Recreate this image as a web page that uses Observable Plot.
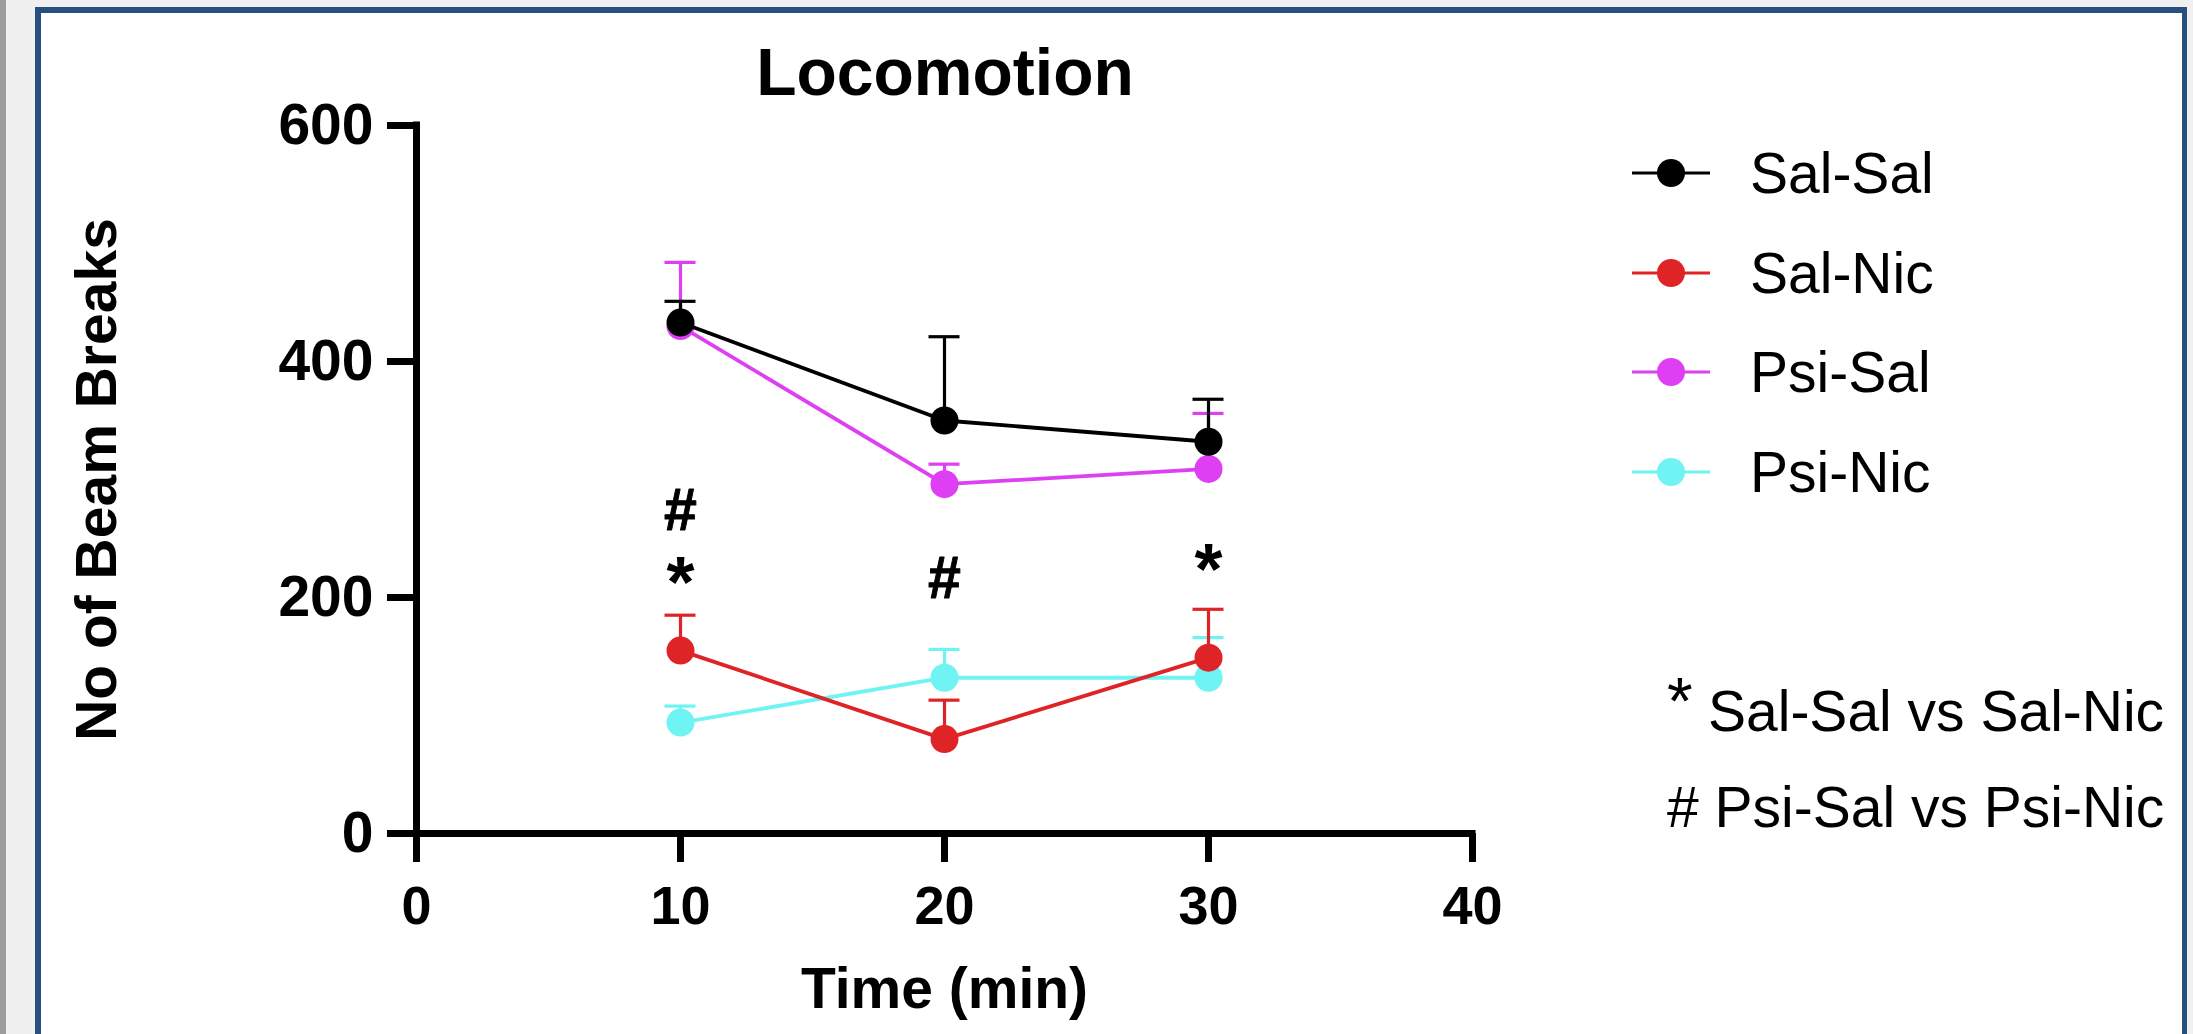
<!DOCTYPE html>
<html>
<head>
<meta charset="utf-8">
<script src="https://cdn.jsdelivr.net/npm/d3@7"></script>
<script src="https://cdn.jsdelivr.net/npm/@observablehq/plot@0.6"></script>
<style>
  html, body { margin: 0; padding: 0; }
  body { width: 2193px; height: 1034px; overflow: hidden; background: #f0f0f0; position: relative;
         font-family: "Liberation Sans", Arial, Helvetica, sans-serif; color: #000; }
  .abs { position: absolute; }
  .star { display: inline-block; width: 41px; font-size: 66px; position: relative; top: -7px; }
</style>
</head>
<body>
<div class="abs" style="left:0;top:0;width:6px;height:1034px;background:#9c9c9c"></div>
<div class="abs" style="left:35px;top:7px;width:2141px;height:1100px;background:#fff;border:6px solid #27507f;border-right-width:5px;border-bottom:none"></div>
<div id="title" class="abs" style="left:445px;top:39px;width:1000px;text-align:center;font-size:66px;line-height:66px;font-weight:bold">Locomotion</div>
<div id="chart" class="abs" style="left:40px;top:100px"></div>
<div id="legend"></div>
<script>
// ---- data ----
const times = [10, 20, 30];
const seriesNames = ["Sal-Sal", "Sal-Nic", "Psi-Sal", "Psi-Nic"];
const seriesColors = ["#000000", "#df2427", "#de3ff2", "#6ff3f3"];
const salSalMean = [433, 350, 332];
const salSalSem = [18, 71, 36];
const salNicMean = [155, 80, 149];
const salNicSem = [30, 33, 41];
const psiSalMean = [430, 296, 309];
const psiSalSem = [54, 17, 47];
const psiNicMean = [94, 132, 132];
const psiNicSem = [14, 24, 34];
const xTicks = [0, 10, 20, 30, 40];
const yTicks = [0, 200, 400, 600];
const sigTimes = [10, 10, 20, 30];
const sigLabels = ["#", "*", "#", "*"];
const sigLevels = [257, 192, 200, 203];
const noteMarks = ["*", "#"];
const noteTexts = ["Sal-Sal vs Sal-Nic", "Psi-Sal vs Psi-Nic"];

// ---- build table ----
const means = [salSalMean, salNicMean, psiSalMean, psiNicMean];
const sems = [salSalSem, salNicSem, psiSalSem, psiNicSem];
const rows = seriesNames.flatMap((s, i) => times.map((t, j) => ({
  series: s, time: t, mean: means[i][j], upper: means[i][j] + sems[i][j]
})));
const sig = sigTimes.map((t, i) => ({time: t, level: sigLevels[i], label: sigLabels[i]}));

const seriesMarks = [];
[...seriesNames].reverse().forEach(s => {
  const d = rows.filter(r => r.series === s);
  seriesMarks.push(
    Plot.ruleX(d, {x: "time", y1: "mean", y2: "upper", stroke: "series", strokeWidth: 3.2}),
    Plot.ruleY(d, {y: "upper", x1: "time", x2: "time", stroke: "series", strokeWidth: 3.2, insetLeft: -15.5, insetRight: -15.5}),
    Plot.line(d, {x: "time", y: "mean", stroke: "series", strokeWidth: 3.8}),
    Plot.dot(d, {x: "time", y: "mean", r: 14, fill: "series", stroke: null})
  );
});

const chart = Plot.plot({
  width: 1560,
  height: 934,
  marginLeft: 376,
  marginRight: 128,
  marginTop: 25,
  marginBottom: 201,
  style: {fontFamily: "'Liberation Sans', Arial, Helvetica, sans-serif", background: "transparent", color: "#000", overflow: "visible"},
  x: {domain: [0, 40]},
  y: {domain: [0, 600]},
  color: {domain: seriesNames, range: seriesColors},
  marks: [
    ...seriesMarks,
    Plot.text(sig.filter(d => d.label === "#"), {x: "time", y: "level", text: "label", fontSize: 59, fontWeight: "bold", lineAnchor: "bottom", fill: "#000", stroke: "#000", strokeWidth: 1}),
    Plot.text(sig.filter(d => d.label === "*"), {x: "time", y: "level", text: "label", fontSize: 72, fontWeight: "bold", lineAnchor: "bottom", fill: "#000"}),
    Plot.axisX({ticks: xTicks, tickSize: 29, tickPadding: 23, strokeWidth: 7, fontSize: 54, fontWeight: "bold", label: null, tickFormat: d => String(d)}),
    Plot.axisY({ticks: yTicks, tickSize: 29, tickPadding: 14, strokeWidth: 7, fontSize: 57, fontWeight: "bold", label: null, tickFormat: d => String(d)}),
    Plot.ruleX([0], {y1: 0, y2: 600, strokeWidth: 7, strokeLinecap: "square"}),
    Plot.ruleY([0], {x1: 0, x2: 40, strokeWidth: 7, strokeLinecap: "square"}),
    Plot.text(["Time (min)"], {frameAnchor: "bottom", dy: 174, lineAnchor: "bottom", fontSize: 57, fontWeight: "bold"}),
    Plot.text(["No of Beam Breaks"], {frameAnchor: "left", dx: -319, rotate: -90, textAnchor: "middle", lineAnchor: "middle", fontSize: 57, fontWeight: "bold"})
  ]
});
document.getElementById("chart").appendChild(chart);

// ---- legend (HTML) ----
const legend = document.getElementById("legend");
const rowCenters = [173, 273, 372, 472];
seriesNames.forEach((s, i) => {
  const cy = rowCenters[i];
  const sym = document.createElementNS("http://www.w3.org/2000/svg", "svg");
  sym.setAttribute("width", 80); sym.setAttribute("height", 30);
  sym.setAttribute("class", "abs");
  sym.style.left = "1631px"; sym.style.top = (cy - 15) + "px";
  sym.innerHTML = `<line x1="1" x2="79" y1="15" y2="15" stroke="${seriesColors[i]}" stroke-width="3.2"/><circle cx="40" cy="15" r="14" fill="${seriesColors[i]}"/>`;
  legend.appendChild(sym);
  const t = document.createElement("div");
  t.className = "abs";
  t.style.cssText = `left:1750px;top:${cy - 28}px;font-size:57px;line-height:57px;white-space:nowrap`;
  t.textContent = s;
  legend.appendChild(t);
});
const noteCenters = [708, 807];
noteTexts.forEach((n, i) => {
  const t = document.createElement("div");
  t.className = "abs";
  t.style.cssText = `left:1667px;top:${noteCenters[i] - 28}px;font-size:57px;line-height:57px;white-space:nowrap`;
  if (noteMarks[i] === "*") {
    const st = document.createElement("span");
    st.className = "star";
    st.textContent = "*";
    t.appendChild(st);
    t.appendChild(document.createTextNode(n));
  } else {
    t.textContent = noteMarks[i] + " " + n;
  }
  legend.appendChild(t);
});
</script>
</body>
</html>
